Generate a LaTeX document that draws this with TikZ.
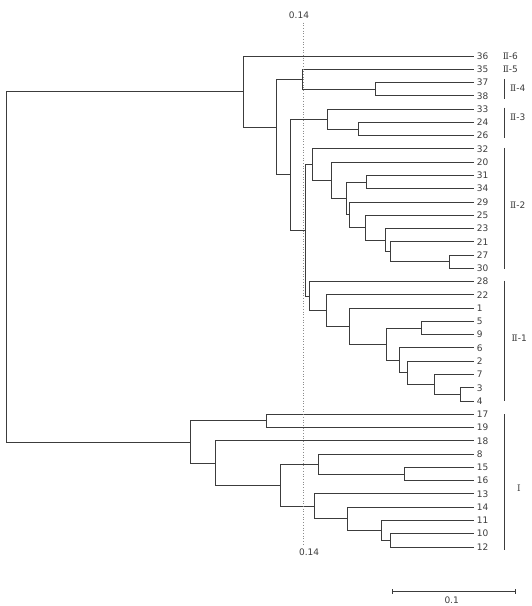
\documentclass[tikz,border=0pt]{standalone}
\usepackage{fontspec}
\setmainfont{DejaVu Sans}
\newfontfamily\rmnfont{DejaVu Serif}
\definecolor{ln}{RGB}{60,60,60}
\definecolor{tx}{RGB}{60,60,60}
\definecolor{ct}{RGB}{140,140,140}
\newcommand\rmnII{{\rmnfont Ⅱ}}
\newcommand\rmnI{{\rmnfont Ⅰ}}
\begin{document}
\begin{tikzpicture}[x=1pt,y=-13.27pt,
  br/.style={draw=ln,line width=0.85pt},
  leaf/.style={anchor=west,inner xsep=3pt,inner ysep=0pt,outer sep=0pt,text=tx,font=\fontsize{9}{10}\selectfont},
  grp/.style={anchor=west,inner sep=0pt,text=tx,font=\fontsize{9}{10}\selectfont},
  lab/.style={inner sep=0pt,text=tx,font=\fontsize{9}{10}\selectfont},
  brk/.style={draw=ln,line width=0.85pt},
  cut/.style={draw=ct,dotted,line width=0.7pt}]
\useasboundingbox (0,-4.22) rectangle (532,41.45);
% leaves
\foreach \lab [count=\i from 0] in {36,35,37,38,33,24,26,32,20,31,34,29,25,23,21,27,30,28,22,1,5,9,6,2,7,3,4,17,19,18,8,15,16,13,14,11,10,12}
  \node[leaf] (l\lab) at (474,\i) {\lab};
% internal nodes
\coordinate (n3738) at (375,2.5);
\coordinate (nD) at (302.7,1.75);
\coordinate (n2426) at (358,5.5);
\coordinate (nII3) at (327,4.75);
\coordinate (n2730) at (449.3,15.5);
\coordinate (n21) at (390.7,14.75);
\coordinate (n23) at (385,13.875);
\coordinate (n25) at (365,12.9375);
\coordinate (n29) at (349.3,11.96875);
\coordinate (n3134) at (366,9.5);
\coordinate (n31g) at (346,10.734);
\coordinate (n20) at (331.7,9.367);
\coordinate (n32) at (312.3,8.184);
\coordinate (n34) at (460.3,25.5);
\coordinate (n7) at (434.3,24.75);
\coordinate (n2) at (407.7,23.875);
\coordinate (n6) at (399,22.9375);
\coordinate (n59) at (421.7,20.5);
\coordinate (n5g) at (386.7,21.72);
\coordinate (n1) at (349.3,20.36);
\coordinate (n22) at (326,19.18);
\coordinate (n28) at (309.3,18.09);
\coordinate (nF) at (305.5,13.137);
\coordinate (nE) at (290.5,8.94);
\coordinate (nC) at (276,5.35);
\coordinate (nA) at (243.7,2.67);
\coordinate (n1719) at (266.7,27.5);
\coordinate (n1516) at (404,31.5);
\coordinate (n8) at (318.3,30.75);
\coordinate (n1012) at (390,36.5);
\coordinate (n11) at (381,35.75);
\coordinate (n14) at (347.3,34.875);
\coordinate (n13) at (314.7,33.94);
\coordinate (nG) at (280.7,32.34);
\coordinate (nH) at (215,30.67);
\coordinate (nB) at (190,29.09);
\coordinate (root) at (6.3,15.88);
% branches
\foreach \p/\c in {root/nA,root/nB,nA/l36,nA/nC,nC/nD,nC/nE,nD/l35,nD/n3738,n3738/l37,n3738/l38,
  nE/nII3,nE/nF,nII3/l33,nII3/n2426,n2426/l24,n2426/l26,nF/n32,nF/n28,
  n32/l32,n32/n20,n20/l20,n20/n31g,n31g/n3134,n31g/n29,n3134/l31,n3134/l34,
  n29/l29,n29/n25,n25/l25,n25/n23,n23/l23,n23/n21,n21/l21,n21/n2730,n2730/l27,n2730/l30,
  n28/l28,n28/n22,n22/l22,n22/n1,n1/l1,n1/n5g,n5g/n59,n5g/n6,n59/l5,n59/l9,
  n6/l6,n6/n2,n2/l2,n2/n7,n7/l7,n7/n34,n34/l3,n34/l4,
  nB/n1719,nB/nH,n1719/l17,n1719/l19,nH/l18,nH/nG,nG/n8,nG/n13,n8/l8,n8/n1516,
  n1516/l15,n1516/l16,n13/l13,n13/n14,n14/l14,n14/n11,n11/l11,n11/n1012,n1012/l10,n1012/l12}
  \draw[br] (\p) |- (\c);
% cut line at 0.14
\coordinate (cutT) at (303.3,-2.51);
\coordinate (cutB) at (303.3,36.93);
\draw[cut] (cutT) -- (cutB);
\node[lab] (cutlabT) at (299,-3.09) {0.14};
\node[lab] (cutlabB) at (309.2,37.38) {0.14};
% group brackets
\coordinate (b4t) at (504,1.73); \coordinate (b4b) at (504,3.24);
\coordinate (b3t) at (504,3.9);  \coordinate (b3b) at (504,6.16);
\coordinate (b2t) at (504,6.93); \coordinate (b2b) at (504,16.05);
\coordinate (b1t) at (504,16.93); \coordinate (b1b) at (504,26.0);
\coordinate (bIt) at (504,26.98); \coordinate (bIb) at (504,37.23);
\draw[brk] (b4t) -- (b4b);
\draw[brk] (b3t) -- (b3b);
\draw[brk] (b2t) -- (b2b);
\draw[brk] (b1t) -- (b1b);
\draw[brk] (bIt) -- (bIb);
% group labels
\node[grp] (g6) at (502.7,0) {\rmnII-6};
\node[grp] (g5) at (502.7,1) {\rmnII-5};
\node[grp] (g4) at (510,2.45) {\rmnII-4};
\node[grp] (g3) at (510,4.6) {\rmnII-3};
\node[grp] (g2) at (510,11.23) {\rmnII-2};
\node[grp] (g1) at (511.5,21.25) {\rmnII-1};
\node[grp] (gI) at (517,32.55) {\rmnI};
% scale bar
\coordinate (sbL) at (392.3,40.37);
\coordinate (sbR) at (515,40.37);
\draw[br] (sbL) -- (sbR);
\draw[br] ([yshift=2.5pt]sbL) -- ([yshift=-2.5pt]sbL);
\draw[br] ([yshift=2.5pt]sbR) -- ([yshift=-2.5pt]sbR);
\node[lab] (sblab) at (451.7,41.0) {0.1};
\end{tikzpicture}
\end{document}
